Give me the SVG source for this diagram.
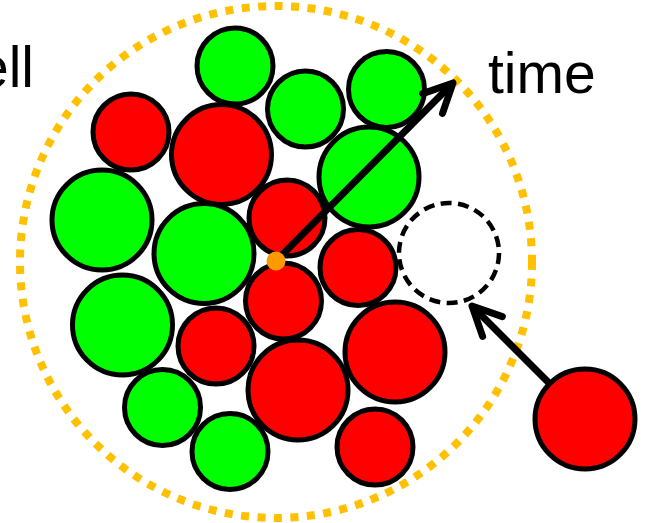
<svg xmlns="http://www.w3.org/2000/svg" width="646" height="523" viewBox="0 0 646 523">
<style>
.g{fill:#00FF00;stroke:#000;stroke-width:5}
.r{fill:#FF0000;stroke:#000;stroke-width:5}
.slot{fill:#fff;stroke:#000;stroke-width:4.5;stroke-dasharray:11 6.45}
.bound{fill:none;stroke:#FFC000;stroke-width:8;stroke-dasharray:8 8.5}
.lbl{font-family:"Liberation Sans",Arial,sans-serif;font-size:57px;fill:#000}
.arr{fill:none;stroke:#000;stroke-width:7;marker-end:url(#head)}
</style>
<defs>
<marker id="head" markerUnits="userSpaceOnUse" orient="auto" refX="0" refY="0" markerWidth="10" markerHeight="10" overflow="visible">
<path d="M -25 -14 L 4 0 L -25 14" fill="none" stroke="#000" stroke-width="7" stroke-linecap="round" stroke-linejoin="round"/>
</marker>
</defs>
<rect width="646" height="523" fill="#fff"/>
<g id="boundary"><circle class="bound" cx="276" cy="262" r="256"/></g>
<text class="lbl" x="34" y="87" text-anchor="end">ell</text>
<text class="lbl" x="488" y="93">time</text>
<g id="cells">
<g id="c1"><circle class="g" cx="235" cy="66" r="38"/></g>
<g id="c2"><circle class="g" cx="305.5" cy="109" r="38"/></g>
<g id="c3"><circle class="g" cx="386.5" cy="89.5" r="38"/></g>
<g id="c4"><circle class="r" cx="131" cy="132" r="38"/></g>
<g id="c5"><circle class="r" cx="221.5" cy="154.5" r="50"/></g>
<g id="c6"><circle class="g" cx="369" cy="177" r="50"/></g>
<g id="c7"><circle class="g" cx="102" cy="220" r="50"/></g>
<g id="c8"><circle class="r" cx="287" cy="218" r="38"/></g>
<g id="c9"><circle class="g" cx="204" cy="253.5" r="50"/></g>
<g id="c10"><circle class="r" cx="358" cy="267.5" r="38"/></g>
<g id="slot"><circle class="slot" cx="449" cy="253" r="50"/></g>
<g id="c12"><circle class="r" cx="283.5" cy="301" r="38"/></g>
<g id="c13"><circle class="g" cx="122.5" cy="325" r="50"/></g>
<g id="c14"><circle class="r" cx="216" cy="346" r="38"/></g>
<g id="c15"><circle class="r" cx="395" cy="352" r="50"/></g>
<g id="c16"><circle class="r" cx="298" cy="390" r="50"/></g>
<g id="c17"><circle class="g" cx="162.5" cy="407.5" r="38"/></g>
<g id="c18"><circle class="g" cx="230" cy="451.5" r="38"/></g>
<g id="c19"><circle class="r" cx="375" cy="447" r="38"/></g>
</g>
<g id="newcell"><circle class="r" cx="585" cy="419" r="50"/></g>
<g id="connectors">
<line class="arr" x1="276" y1="261" x2="450.2" y2="85.8"/>
<line class="arr" x1="550" y1="384" x2="474.8" y2="308.8"/>
</g>
<g id="origin"><circle cx="276" cy="261" r="9.5" fill="#FF9900"/></g>
</svg>
